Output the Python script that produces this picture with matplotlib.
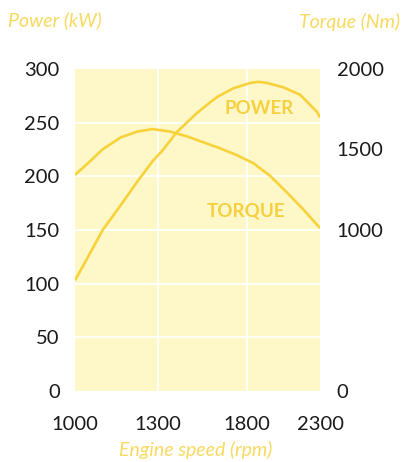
import numpy as np
import matplotlib.pyplot as plt

# values
rpm_ticks = [1000, 1300, 1800, 2300]
power_ticks = [0, 50, 100, 150, 200, 250, 300]
torque_ticks = [0, 1000, 1500, 2000]

power_rpm = [1000, 1045, 1100, 1165, 1225, 1280, 1330, 1405, 1520, 1595,
             1635, 1725, 1825, 1880, 1940, 2050, 2165, 2280, 2300]
power_kw = [103, 124, 150, 173, 195, 214, 225, 241, 259, 269,
            274, 282, 287, 288, 287, 283, 276, 260, 255]

torque_rpm = [1000, 1055, 1100, 1165, 1225, 1280, 1370, 1465, 1555, 1650,
              1745, 1845, 1960, 2075, 2185, 2300]
torque_nm = [1342, 1428, 1501, 1575, 1611, 1627, 1611, 1581, 1545, 1508,
             1465, 1416, 1337, 1233, 1129, 1012]

line_col = "#F8D23A"
label_col = "#F6D040"
title_col = "#F8DA60"
bg_col = "#FEF7C8"

# the original x axis is not linear: map tick rpm onto the printed positions
tick_pos = [0, 83, 171.5, 245]

def fwd(x):
    return np.interp(x, rpm_ticks, tick_pos, left=-1e3, right=1e3)

def inv(p):
    return np.interp(p, tick_pos, rpm_ticks)

plt.rcParams["font.family"] = ["Lato", "DejaVu Sans"]

fig = plt.figure(figsize=(4.03, 4.62), dpi=100)
ax = fig.add_axes([75 / 403, 1 - 391 / 462, 245 / 403, 322 / 462])
ax.set_facecolor(bg_col)
ax.set_xscale("function", functions=(fwd, inv))
ax.set_xlim(1000, 2300)
ax.set_ylim(0, 300)

for y in power_ticks[1:-1]:
    ax.axhline(y, color="white", lw=1.3, zorder=1)
for x in rpm_ticks[1:-1]:
    ax.axvline(x, color="white", lw=1.3, zorder=1)

ax.plot(power_rpm, power_kw, color=line_col, lw=1.9, zorder=3,
        solid_capstyle="butt")

ax2 = ax.twinx()
ax2.set_ylim(0, 2000)
ax2.plot(torque_rpm, torque_nm, color=line_col, lw=1.9, zorder=3,
         solid_capstyle="butt")

ax.set_xticks(rpm_ticks)
ax.set_xticklabels([str(v) for v in rpm_ticks])
ax.set_yticks(power_ticks)
ax2.set_yticks(torque_ticks)

for a in (ax, ax2):
    for s in a.spines.values():
        s.set_visible(False)
    a.tick_params(length=0, labelsize=14.5, colors="#1a1a1a")
ax.tick_params(axis="y", pad=11)
ax.tick_params(axis="x", pad=18)
ax2.tick_params(axis="y", pad=12)

ax.text(1885, 263, "POWER", color=label_col, fontsize=13.5, fontweight="bold",
        ha="center", va="center", zorder=4)
ax.text(1795, 168, "TORQUE", color=label_col, fontsize=13.5, fontweight="bold",
        ha="center", va="center", zorder=4)

fig.text(0.02, 0.956, "Power (kW)", color=title_col, fontsize=14,
         style="italic", ha="left", va="center")
fig.text(0.993, 0.953, "Torque (Nm)", color=title_col, fontsize=14,
         style="italic", ha="right", va="center")
fig.text(0.485, 0.026, "Engine speed (rpm)", color=title_col, fontsize=14,
         style="italic", ha="center", va="center")

fig.savefig("out.png", dpi=100)
